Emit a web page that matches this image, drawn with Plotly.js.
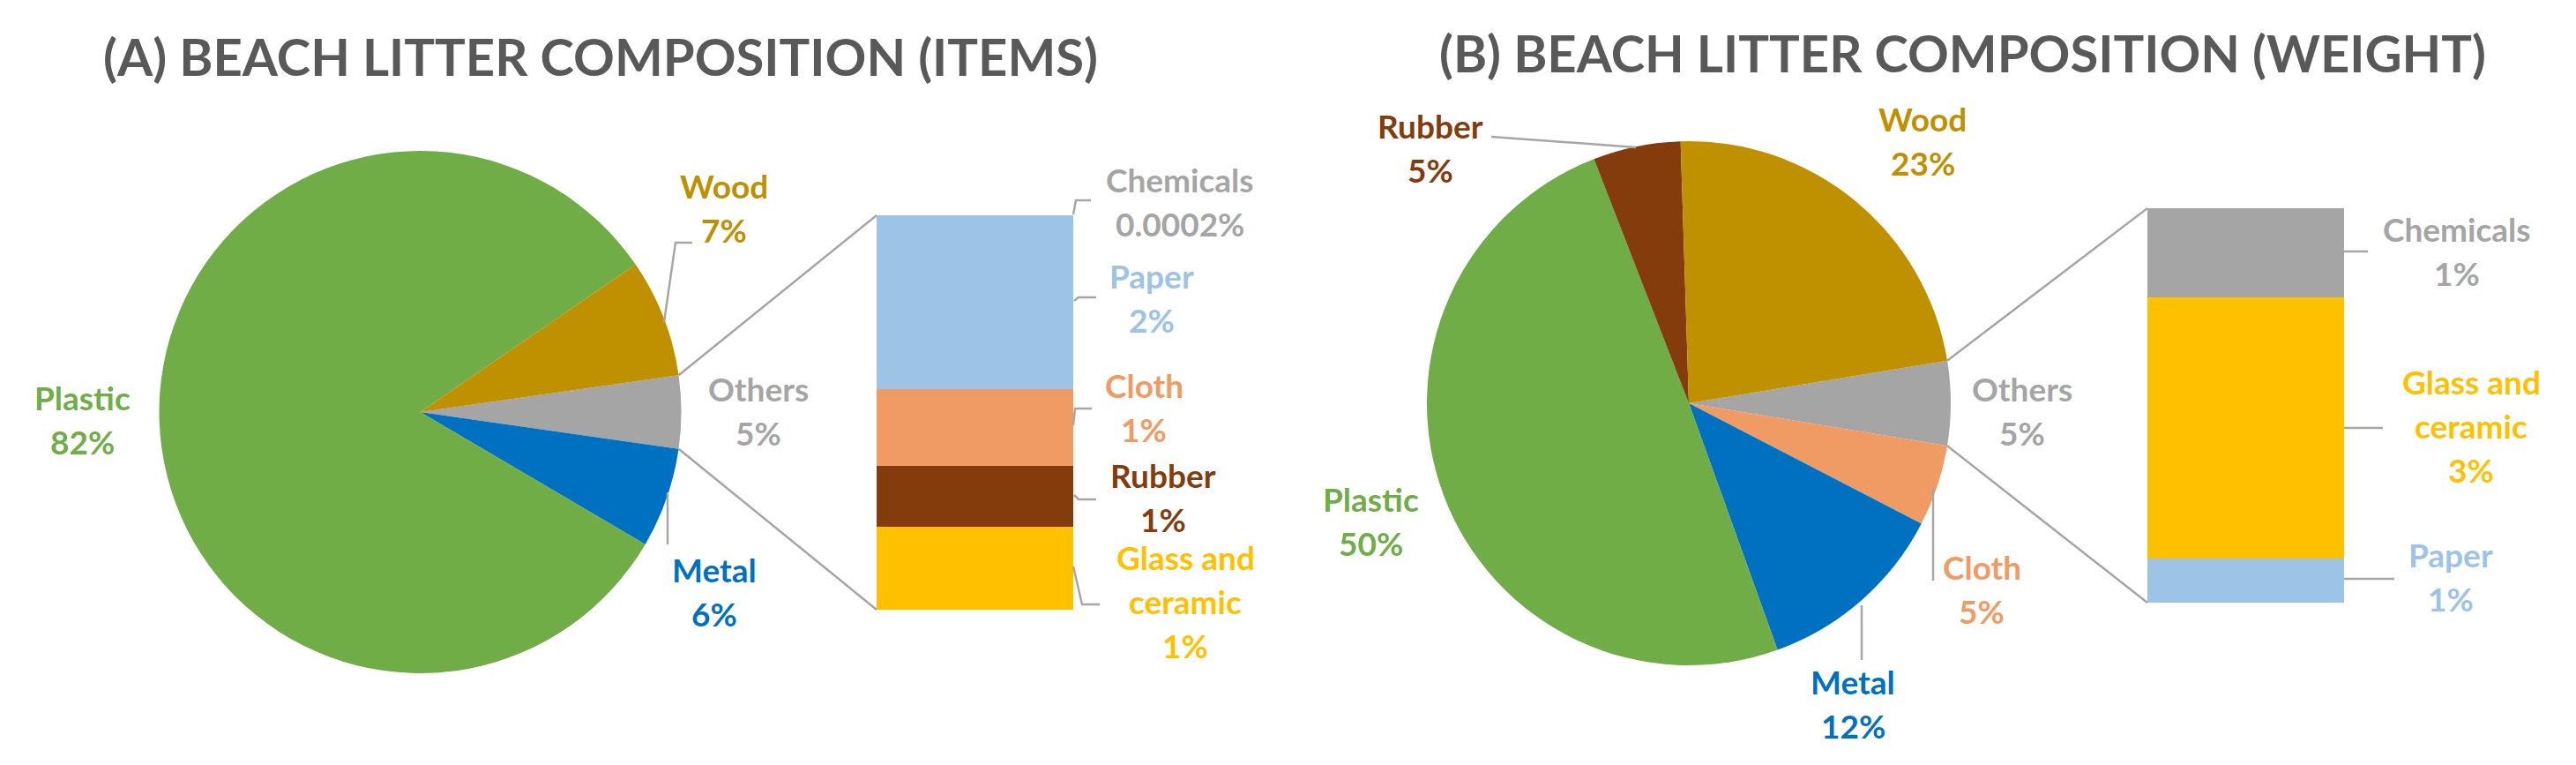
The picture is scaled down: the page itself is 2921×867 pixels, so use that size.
<!DOCTYPE html>
<html>
<head>
<meta charset="utf-8">
<script src="https://cdn.plot.ly/plotly-3.0.1.min.js"></script>
<style>
html, body { margin: 0; padding: 0; background: #ffffff; }
#chart { width: 2921px; height: 867px; }
</style>
</head>
<body>
<div id="chart"></div>
<script>
// ---------------- DATA ----------------
// (A) items: pie slices listed clockwise starting from the "Others" slice
const pieCategoriesA = ['Others', 'Metal', 'Plastic', 'Wood'];
const pieValuesA = [4.5, 6.2, 82.0, 7.3];
// (A) breakdown of "Others", listed bottom to top of the stacked bar
const barCategoriesA = ['Glass and ceramic', 'Rubber', 'Cloth', 'Paper', 'Chemicals'];
const barValuesA = [0.95, 0.69, 0.88, 1.98, 0.0002];

// (B) weight
const pieCategoriesB = ['Others', 'Cloth', 'Metal', 'Plastic', 'Rubber', 'Wood'];
const pieValuesB = [5.2, 5.0, 11.9, 49.6, 5.4, 22.9];
const barCategoriesB = ['Paper', 'Glass and ceramic', 'Chemicals'];
const barValuesB = [0.58, 3.45, 1.17];

const chartTitles = ['(A) BEACH LITTER COMPOSITION (ITEMS)', '(B) BEACH LITTER COMPOSITION (WEIGHT)'];

// ---------------- STYLE ----------------
const W = 2921, H = 867;
const FONT = "Lato, 'Open Sans', 'DejaVu Sans', sans-serif";
const colorOf = {
  'Plastic': '#70ad47',
  'Wood': '#bf9000',
  'Others': '#a5a5a5',
  'Metal': '#0070c0',
  'Paper': '#9dc3e6',
  'Cloth': '#f09b63',
  'Rubber': '#843c0c',
  'Glass and ceramic': '#ffc000',
  'Chemicals': '#a5a5a5'
};
const leaderColor = '#a6a6a6';
const labelSize = 37;
const titleSize = 58;
const lineGap = 50;

const px = x => x / W;
const py = y => 1 - y / H;

// layout geometry (pixels)
const pieA = { cx: 476.5, cy: 467, r: 296 };
const pieB = { cx: 1915, cy: 457, r: 297 };
const barA = { x0: 994, x1: 1217, y0: 244, y1: 691 };
const barB = { x0: 2435, x1: 2658, y0: 236, y1: 683 };

const labelPosA = {
  'Plastic': [93, 465], 'Wood': [821, 225], 'Others': [860, 455], 'Metal': [810, 660],
  'Chemicals': [1338, 218], 'Paper': [1306, 327], 'Cloth': [1297, 451],
  'Rubber': [1319, 553], 'Glass and ceramic': [1344, 646]
};
const labelPosB = {
  'Rubber': [1622, 157], 'Wood': [2180, 149], 'Others': [2293, 455], 'Plastic': [1554, 580],
  'Cloth': [2247, 657], 'Metal': [2101, 787],
  'Chemicals': [2786, 274], 'Glass and ceramic': [2802, 447], 'Paper': [2779, 643]
};
const leadersA = [
  [[753, 365], [766, 275], [785, 275]],
  [[757, 558], [757, 617]],
  [[1217, 243], [1220, 227], [1237, 227]],
  [[1218, 341], [1223, 337], [1243, 337]],
  [[1217, 482], [1219, 463], [1238, 463]],
  [[1218, 561], [1223, 566], [1243, 566]],
  [[1217, 642], [1227, 685], [1247, 685]]
];
const leadersB = [
  [[1691, 155], [1855, 167]],
  [[2192, 553], [2192, 658]],
  [[2111, 686], [2111, 748]],
  [[2658, 285], [2685, 285]],
  [[2658, 485], [2702, 485]],
  [[2658, 656], [2715, 656]]
];

// ---------------- HELPERS ----------------
const fmtPct = v => (v < 0.01 ? String(v) : String(Math.round(v))) + '%';
const nameLines = n => (n === 'Glass and ceramic' ? ['Glass and', 'ceramic'] : [n]);
const sum = a => a.reduce((s, v) => s + v, 0);

function pieTrace(cats, vals, geo) {
  const total = sum(vals);
  const othersIdx = cats.indexOf('Others');
  const half = 180 * vals[othersIdx] / total;
  return {
    type: 'pie',
    labels: cats,
    values: vals,
    sort: false,
    direction: 'clockwise',
    rotation: 90 - half,
    marker: { colors: cats.map(c => colorOf[c]), line: { width: 0 } },
    textinfo: 'none',
    hoverinfo: 'none',
    showlegend: false,
    domain: {
      x: [px(geo.cx - geo.r), px(geo.cx + geo.r)],
      y: [py(geo.cy + geo.r), py(geo.cy - geo.r)]
    }
  };
}

function barTraces(cats, vals, xa, ya) {
  return cats.map((c, i) => ({
    type: 'bar',
    x: [0],
    y: [vals[i]],
    width: 1,
    name: c,
    xaxis: xa,
    yaxis: ya,
    marker: { color: colorOf[c], line: { width: 0 } },
    hoverinfo: 'none',
    showlegend: false
  }));
}

function labelAnnotations(cats, vals, pos) {
  const out = [];
  cats.forEach((c, i) => {
    const p = pos[c];
    if (!p) return;
    const lines = nameLines(c).concat([fmtPct(vals[i])]);
    lines.forEach((t, k) => {
      const base = p[1] + k * lineGap;
      out.push({
        xref: 'paper', yref: 'paper',
        x: px(p[0]), y: py(base - 0.387 * labelSize),
        xanchor: 'center', yanchor: 'middle',
        text: t, showarrow: false,
        font: { family: FONT, size: labelSize, color: colorOf[c], weight: 700 }
      });
    });
  });
  return out;
}

function leaderShapes(list) {
  return list.map(pts => ({
    type: 'path', xref: 'paper', yref: 'paper',
    path: pts.map((p, k) => (k === 0 ? 'M' : 'L') + px(p[0]) + ',' + py(p[1])).join(' '),
    line: { color: leaderColor, width: 2.5 }
  }));
}

function connectorShapes(cats, vals, geo, bar) {
  const total = sum(vals);
  const half = Math.PI * vals[cats.indexOf('Others')] / total;
  const ex = geo.cx + geo.r * Math.cos(half);
  const dy = geo.r * Math.sin(half);
  return [
    [[ex, geo.cy - dy], [bar.x0, bar.y0]],
    [[ex, geo.cy + dy], [bar.x0, bar.y1]]
  ].map(seg => ({
    type: 'line', xref: 'paper', yref: 'paper',
    x0: px(seg[0][0]), y0: py(seg[0][1]), x1: px(seg[1][0]), y1: py(seg[1][1]),
    line: { color: leaderColor, width: 2.5 }
  }));
}

// ---------------- BUILD ----------------
const data = [
  pieTrace(pieCategoriesA, pieValuesA, pieA),
  pieTrace(pieCategoriesB, pieValuesB, pieB)
].concat(
  barTraces(barCategoriesA, barValuesA, 'x', 'y'),
  barTraces(barCategoriesB, barValuesB, 'x2', 'y2')
);

const hiddenAxis = { visible: false, showgrid: false, zeroline: false, fixedrange: true };

const annotations = [
  { xref: 'paper', yref: 'paper', x: px(681), y: py(64), xanchor: 'center', yanchor: 'middle',
    text: chartTitles[0], showarrow: false, font: { family: FONT, size: titleSize, color: '#595959', weight: 700 } },
  { xref: 'paper', yref: 'paper', x: px(2225), y: py(60), xanchor: 'center', yanchor: 'middle',
    text: chartTitles[1], showarrow: false, font: { family: FONT, size: titleSize, color: '#595959', weight: 700 } }
].concat(
  labelAnnotations(pieCategoriesA, pieValuesA, labelPosA),
  labelAnnotations(barCategoriesA, barValuesA, labelPosA),
  labelAnnotations(pieCategoriesB, pieValuesB, labelPosB),
  labelAnnotations(barCategoriesB, barValuesB, labelPosB)
);

const shapes = [].concat(
  leaderShapes(leadersA),
  leaderShapes(leadersB),
  connectorShapes(pieCategoriesA, pieValuesA, pieA, barA),
  connectorShapes(pieCategoriesB, pieValuesB, pieB, barB)
);

const layout = {
  width: W, height: H, autosize: false,
  margin: { l: 0, r: 0, t: 0, b: 0, pad: 0 },
  paper_bgcolor: '#ffffff', plot_bgcolor: 'rgba(0,0,0,0)',
  showlegend: false,
  barmode: 'stack',
  font: { family: FONT },
  xaxis: Object.assign({}, hiddenAxis, { domain: [px(barA.x0), px(barA.x1)], range: [-0.5, 0.5] }),
  yaxis: Object.assign({}, hiddenAxis, { domain: [py(barA.y1), py(barA.y0)], range: [0, sum(barValuesA)] }),
  xaxis2: Object.assign({}, hiddenAxis, { domain: [px(barB.x0), px(barB.x1)], range: [-0.5, 0.5], anchor: 'y2' }),
  yaxis2: Object.assign({}, hiddenAxis, { domain: [py(barB.y1), py(barB.y0)], range: [0, sum(barValuesB)], anchor: 'x2' }),
  annotations: annotations,
  shapes: shapes
};

Plotly.newPlot('chart', data, layout, { displayModeBar: false, staticPlot: true });
</script>
</body>
</html>
